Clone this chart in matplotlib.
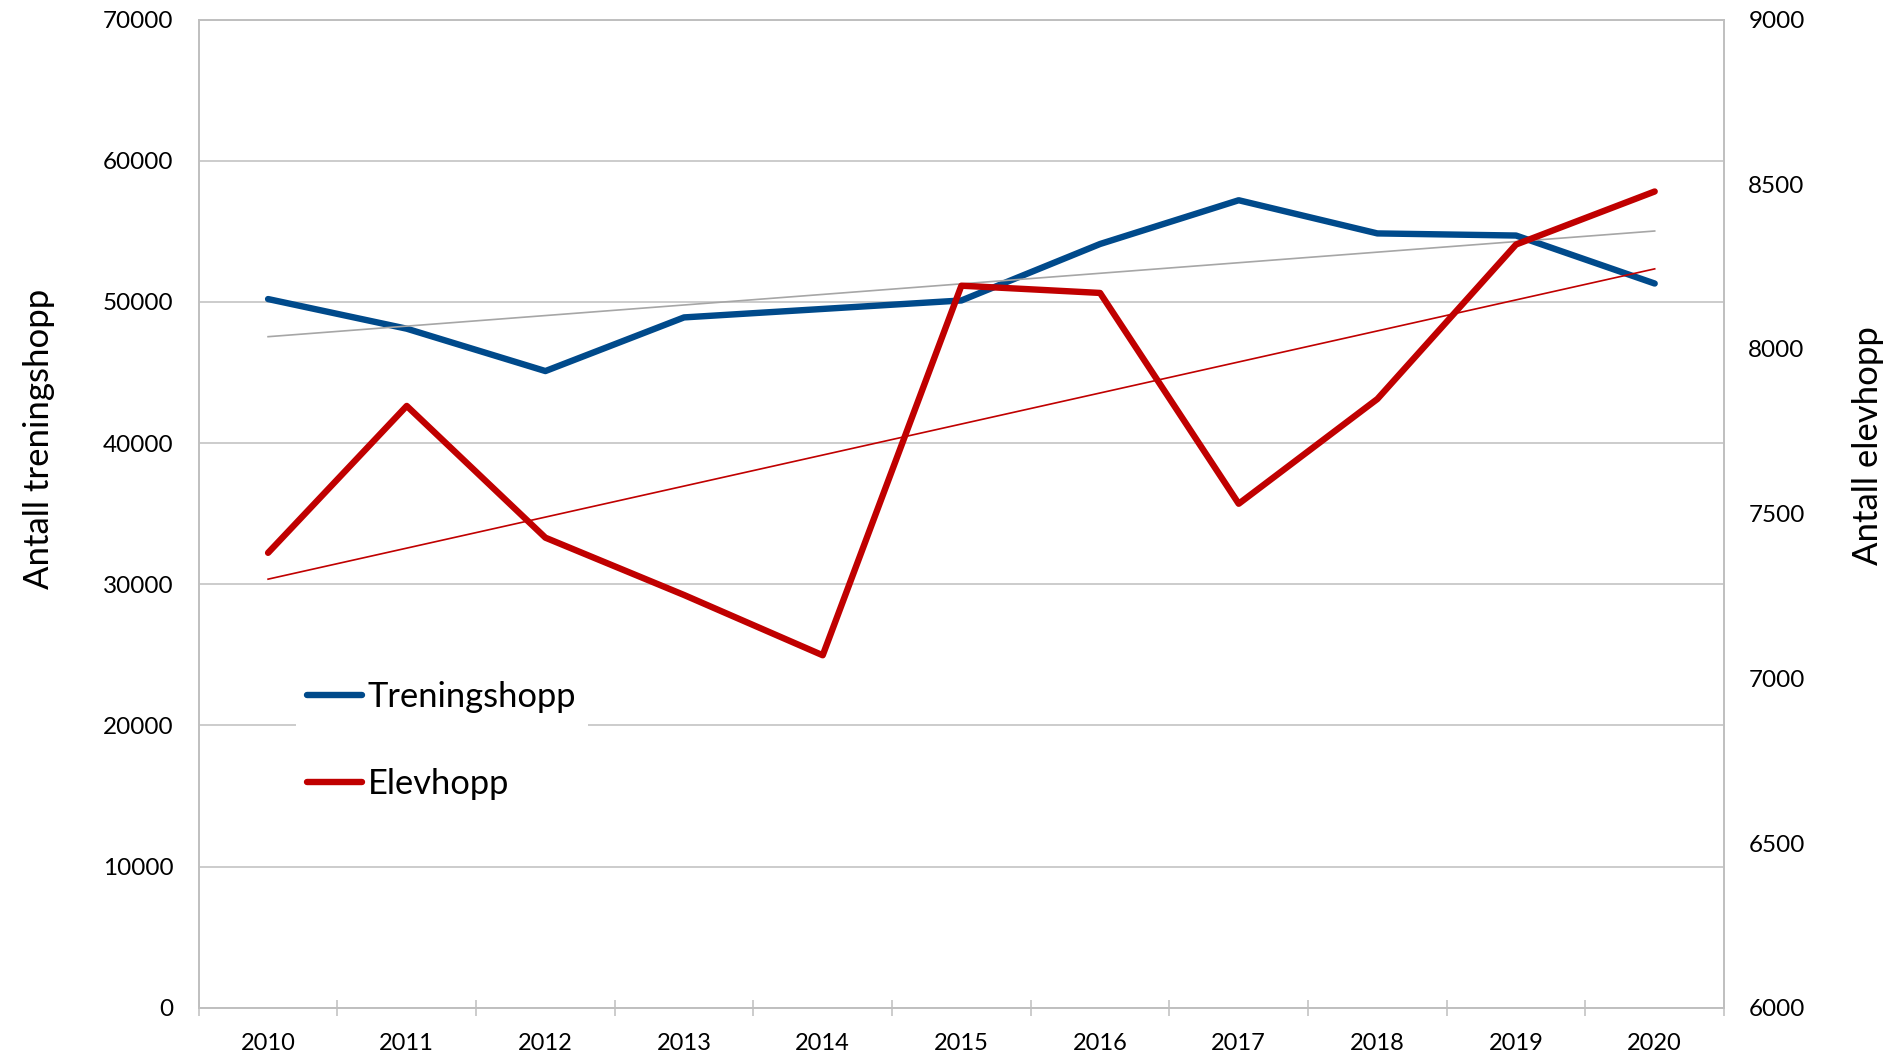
import numpy as np
import matplotlib
matplotlib.use("Agg")
import matplotlib.pyplot as plt

plt.rcParams['font.family'] = ['Lato', 'DejaVu Sans']

years = ['2010', '2011', '2012', '2013', '2014', '2015', '2016', '2017', '2018', '2019', '2020']
treningshopp = [50200, 48100, 45100, 48900, 49500, 50100, 54100, 57200, 54850, 54700, 51300]
elevhopp = [7381, 7827, 7427, 7253, 7070, 8192, 8170, 7530, 7848, 8317, 8478]
left_ticks = list(range(0, 70001, 10000))
right_ticks = list(range(6000, 9001, 500))

BLUE = '#004A8B'
RED = '#C00000'
GRID = '#BFBFBF'
TREND_GRAY = '#A6A6A6'

fig = plt.figure(figsize=(18.91, 10.62), dpi=100)
ax = fig.add_axes([0.1051, 0.0511, 0.8066, 0.9305])
ax2 = ax.twinx()

x = np.arange(len(years))

l1, = ax.plot(x, treningshopp, color=BLUE, lw=4.6, solid_capstyle='round',
              solid_joinstyle='round', zorder=3)
c1 = np.polyfit(x, treningshopp, 1)
ends = x[[0, -1]]
ax.plot(ends, np.polyval(c1, ends), color=TREND_GRAY, lw=1.2, zorder=4)

l2, = ax2.plot(x, elevhopp, color=RED, lw=4.6, solid_capstyle='round',
               solid_joinstyle='round', zorder=3)
c2 = np.polyfit(x, elevhopp, 1)
ax2.plot(ends, np.polyval(c2, ends), color=RED, lw=1.2, zorder=4)

ax.set_xlim(-0.5, len(years) - 0.5)
ax.set_ylim(0, 70000)
ax2.set_ylim(6000, 9000)
ax.set_yticks(left_ticks)
ax.set_yticklabels([str(v) for v in left_ticks])
ax2.set_yticks(right_ticks)
ax2.set_yticklabels([str(v) for v in right_ticks])
ax.set_xticks(x)
ax.set_xticklabels(years)
ax.set_xticks(np.arange(-0.5, len(years), 1.0), minor=True)

ax.yaxis.grid(True, color=GRID, lw=1.1)
ax.set_axisbelow(True)

ax.tick_params(axis='y', length=0, pad=18, labelsize=17.5)
ax2.tick_params(axis='y', length=0, pad=17.5, labelsize=17.5)
ax.tick_params(axis='x', which='major', length=0, pad=18.5, labelsize=17)
ax.tick_params(axis='x', which='minor', direction='inout', length=11.5, width=1.1, color=GRID)

for a in (ax, ax2):
    for s in a.spines.values():
        s.set_color(GRID)
        s.set_linewidth(1.25)

fig.text(0.0204, 0.5866, 'Antall treningshopp', rotation=90, ha='center', va='center', fontsize=25)
fig.text(0.9878, 0.5805, 'Antall elevhopp', rotation=90, ha='center', va='center', fontsize=25)

leg = ax2.legend([l1, l2], ['Treningshopp', 'Elevhopp'], loc='upper left',
                 bbox_to_anchor=(296 / 1891, 1 - 670 / 1062), bbox_transform=fig.transFigure,
                 fontsize=24.8, handlelength=1.6, handletextpad=0.15, borderpad=0.33,
                 labelspacing=1.58, borderaxespad=0, frameon=True, fancybox=False,
                 framealpha=1, facecolor='white', edgecolor='none')

fig.savefig('out.png', dpi=100)
